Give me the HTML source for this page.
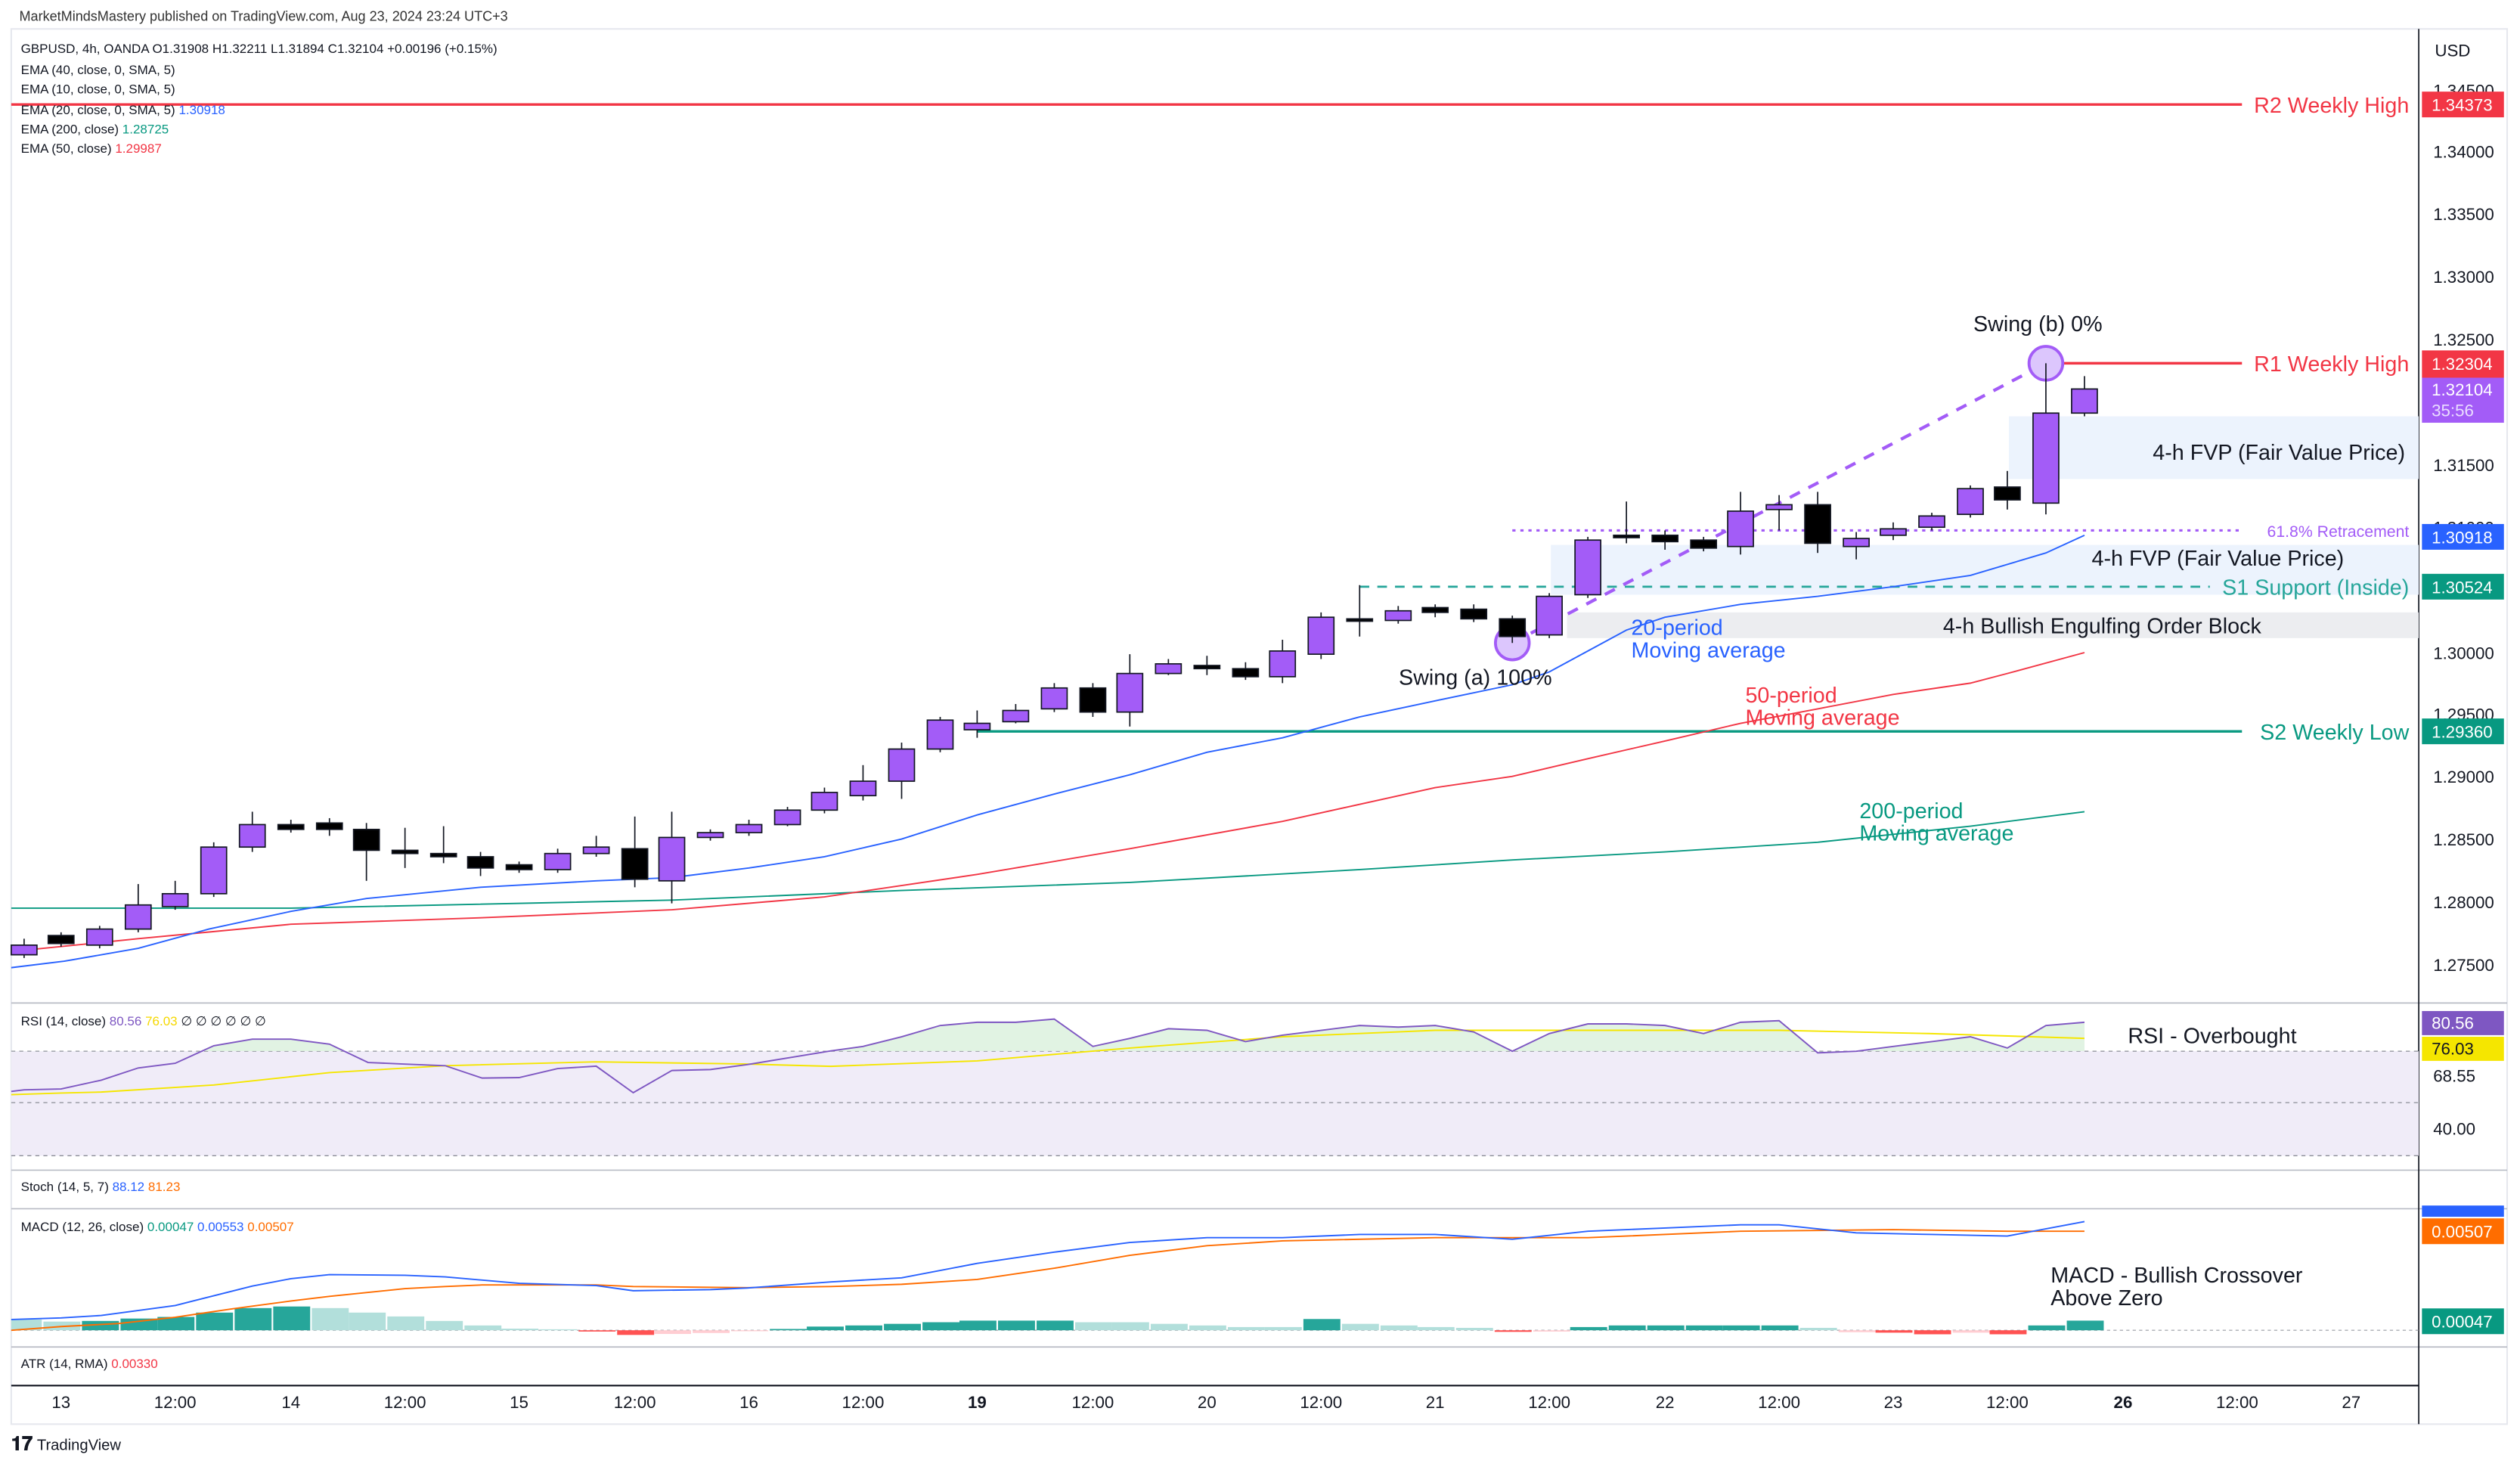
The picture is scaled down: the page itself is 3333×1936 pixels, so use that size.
<!DOCTYPE html>
<html><head><meta charset="utf-8"><style>
html,body{margin:0;padding:0;background:#fff;}
svg{display:block;}
text{font-family:"Liberation Sans",sans-serif;}
</style></head><body>
<svg width="3333" height="1936" viewBox="0 0 1568 910.8" preserveAspectRatio="none" xmlns="http://www.w3.org/2000/svg">
<rect width="1568" height="911" fill="#fff"/>
<text x="12" y="13" font-size="8.5" fill="#333">MarketMindsMastery published on TradingView.com, Aug 23, 2024 23:24 UTC+3</text>
<rect x="7" y="18" width="1553" height="868" fill="none" stroke="#e6e8ee" stroke-width="1"/>
<g stroke="#b8bbc4" stroke-width="0.8">
<line x1="7" y1="624" x2="1560" y2="624"/>
<line x1="7" y1="728" x2="1560" y2="728"/>
<line x1="7" y1="752" x2="1560" y2="752"/>
<line x1="7" y1="838" x2="1560" y2="838"/>
</g>
<line x1="7" y1="862" x2="1505" y2="862" stroke="#131722" stroke-width="1"/>
<line x1="1505" y1="18" x2="1505" y2="886" stroke="#131722" stroke-width="0.8"/>

<rect x="1250" y="259" width="255" height="39" fill="#ecf3fd"/>
<rect x="965" y="339" width="540" height="31" fill="#ecf3fd"/>
<rect x="975" y="381" width="530" height="16" fill="#ecedf0"/>

<line x1="7" y1="65" x2="1395" y2="65" stroke="#f23645" stroke-width="1.6"/>
<line x1="1275" y1="226" x2="1395" y2="226" stroke="#f23645" stroke-width="1.6"/>
<line x1="608" y1="455" x2="1395" y2="455" stroke="#089981" stroke-width="1.6"/>
<line x1="846" y1="365" x2="1375" y2="365" stroke="#26a69a" stroke-width="1.3" stroke-dasharray="6,5"/>
<line x1="846" y1="365" x2="846" y2="378" stroke="#131722" stroke-width="0.6"/>
<line x1="941" y1="330" x2="1395" y2="330" stroke="#a35cf7" stroke-width="1.5" stroke-dasharray="2,3"/>

<polyline fill="none" stroke="#089981" stroke-width="0.9" points="7,565 181,565 418,560 561,554 703,549 846,541 941,535 1036,530 1131,524 1226,514 1297,505"/>
<polyline fill="none" stroke="#f23645" stroke-width="0.9" points="7,592 86,584 181,575 299,571 418,566 513,558 608,544 703,528 798,511 893,490 941,483 988,472 1036,461 1083,450 1131,441 1178,432 1226,425 1249,419 1297,406"/>
<polyline fill="none" stroke="#2962ff" stroke-width="0.9" points="7,602 40,598 86,590 130,578 181,567 228,559 299,552 371,548 418,546 466,540 513,533 561,522 608,507 656,494 703,482 751,468 798,459 846,446 893,436 941,426 964,418 988,405 1012,392 1036,384 1083,376 1131,371 1178,365 1226,358 1273,344 1297,333"/>

<line x1="941" y1="400" x2="1273" y2="226" stroke="#a35cf7" stroke-width="2" stroke-dasharray="7,6"/>
<circle cx="941" cy="400" r="10.5" fill="#dcc6fd" stroke="#a35cf7" stroke-width="1.8"/>
<circle cx="1273" cy="226" r="10.5" fill="#dcc6fd" stroke="#a35cf7" stroke-width="1.8"/>

<g stroke="#131722" stroke-width="0.8">
<line x1="15" y1="584" x2="15" y2="596"/><rect x="7" y="588" width="16" height="6" fill="#a35cf7"/>
<line x1="38" y1="580" x2="38" y2="589"/><rect x="30" y="582" width="16" height="5" fill="#000"/>
<line x1="62" y1="576" x2="62" y2="590"/><rect x="54" y="578" width="16" height="10" fill="#a35cf7"/>
<line x1="86" y1="550" x2="86" y2="580"/><rect x="78" y="563" width="16" height="15" fill="#a35cf7"/>
<line x1="109" y1="548" x2="109" y2="566"/><rect x="101" y="556" width="16" height="8" fill="#a35cf7"/>
<line x1="133" y1="524" x2="133" y2="558"/><rect x="125" y="527" width="16" height="29" fill="#a35cf7"/>
<line x1="157" y1="505" x2="157" y2="530"/><rect x="149" y="513" width="16" height="14" fill="#a35cf7"/>
<line x1="181" y1="510" x2="181" y2="518"/><rect x="173" y="513" width="16" height="3" fill="#000"/>
<line x1="205" y1="509" x2="205" y2="520"/><rect x="197" y="512" width="16" height="4" fill="#000"/>
<line x1="228" y1="512" x2="228" y2="548"/><rect x="220" y="516" width="16" height="13" fill="#000"/>
<line x1="252" y1="515" x2="252" y2="540"/><rect x="244" y="529" width="16" height="2" fill="#000"/>
<line x1="276" y1="514" x2="276" y2="537"/><rect x="268" y="531" width="16" height="2" fill="#000"/>
<line x1="299" y1="530" x2="299" y2="545"/><rect x="291" y="533" width="16" height="7" fill="#000"/>
<line x1="323" y1="536" x2="323" y2="543"/><rect x="315" y="538" width="16" height="3" fill="#000"/>
<line x1="347" y1="528" x2="347" y2="543"/><rect x="339" y="531" width="16" height="10" fill="#a35cf7"/>
<line x1="371" y1="520" x2="371" y2="533"/><rect x="363" y="527" width="16" height="4" fill="#a35cf7"/>
<line x1="395" y1="508" x2="395" y2="552"/><rect x="387" y="528" width="16" height="19" fill="#000"/>
<line x1="418" y1="505" x2="418" y2="562"/><rect x="410" y="521" width="16" height="27" fill="#a35cf7"/>
<line x1="442" y1="516" x2="442" y2="523"/><rect x="434" y="518" width="16" height="3" fill="#a35cf7"/>
<line x1="466" y1="510" x2="466" y2="520"/><rect x="458" y="513" width="16" height="5" fill="#a35cf7"/>
<line x1="490" y1="502" x2="490" y2="514"/><rect x="482" y="504" width="16" height="9" fill="#a35cf7"/>
<line x1="513" y1="490" x2="513" y2="506"/><rect x="505" y="493" width="16" height="11" fill="#a35cf7"/>
<line x1="537" y1="476" x2="537" y2="498"/><rect x="529" y="486" width="16" height="9" fill="#a35cf7"/>
<line x1="561" y1="462" x2="561" y2="497"/><rect x="553" y="466" width="16" height="20" fill="#a35cf7"/>
<line x1="585" y1="446" x2="585" y2="468"/><rect x="577" y="448" width="16" height="18" fill="#a35cf7"/>
<line x1="608" y1="442" x2="608" y2="459"/><rect x="600" y="450" width="16" height="4" fill="#a35cf7"/>
<line x1="632" y1="438" x2="632" y2="450"/><rect x="624" y="442" width="16" height="7" fill="#a35cf7"/>
<line x1="656" y1="425" x2="656" y2="443"/><rect x="648" y="428" width="16" height="13" fill="#a35cf7"/>
<line x1="680" y1="425" x2="680" y2="446"/><rect x="672" y="428" width="16" height="15" fill="#000"/>
<line x1="703" y1="407" x2="703" y2="452"/><rect x="695" y="419" width="16" height="24" fill="#a35cf7"/>
<line x1="727" y1="410" x2="727" y2="420"/><rect x="719" y="413" width="16" height="6" fill="#a35cf7"/>
<line x1="751" y1="408" x2="751" y2="420"/><rect x="743" y="414" width="16" height="2" fill="#000"/>
<line x1="775" y1="412" x2="775" y2="423"/><rect x="767" y="416" width="16" height="5" fill="#000"/>
<line x1="798" y1="398" x2="798" y2="425"/><rect x="790" y="405" width="16" height="16" fill="#a35cf7"/>
<line x1="822" y1="381" x2="822" y2="410"/><rect x="814" y="384" width="16" height="23" fill="#a35cf7"/>
<line x1="846" y1="364" x2="846" y2="396"/><rect x="838" y="385" width="16" height="1.5" fill="#000"/>
<line x1="870" y1="377" x2="870" y2="388"/><rect x="862" y="380" width="16" height="6" fill="#a35cf7"/>
<line x1="893" y1="376" x2="893" y2="384"/><rect x="885" y="378" width="16" height="3" fill="#000"/>
<line x1="917" y1="376" x2="917" y2="387"/><rect x="909" y="379" width="16" height="6" fill="#000"/>
<line x1="941" y1="383" x2="941" y2="400"/><rect x="933" y="385" width="16" height="11" fill="#000"/>
<line x1="964" y1="369" x2="964" y2="397"/><rect x="956" y="371" width="16" height="24" fill="#a35cf7"/>
<line x1="988" y1="334" x2="988" y2="372"/><rect x="980" y="336" width="16" height="34" fill="#a35cf7"/>
<line x1="1012" y1="312" x2="1012" y2="338"/><rect x="1004" y="333" width="16" height="1.5" fill="#000"/>
<line x1="1036" y1="330" x2="1036" y2="342"/><rect x="1028" y="333" width="16" height="4" fill="#000"/>
<line x1="1060" y1="334" x2="1060" y2="343"/><rect x="1052" y="336" width="16" height="5" fill="#000"/>
<line x1="1083" y1="306" x2="1083" y2="345"/><rect x="1075" y="318" width="16" height="22" fill="#a35cf7"/>
<line x1="1107" y1="308" x2="1107" y2="330"/><rect x="1099" y="314" width="16" height="3" fill="#a35cf7"/>
<line x1="1131" y1="306" x2="1131" y2="344"/><rect x="1123" y="314" width="16" height="24" fill="#000"/>
<line x1="1155" y1="331" x2="1155" y2="348"/><rect x="1147" y="335" width="16" height="5" fill="#a35cf7"/>
<line x1="1178" y1="325" x2="1178" y2="336"/><rect x="1170" y="329" width="16" height="4" fill="#a35cf7"/>
<line x1="1202" y1="319" x2="1202" y2="330"/><rect x="1194" y="321" width="16" height="7" fill="#a35cf7"/>
<line x1="1226" y1="302" x2="1226" y2="322"/><rect x="1218" y="304" width="16" height="16" fill="#a35cf7"/>
<line x1="1249" y1="293" x2="1249" y2="317"/><rect x="1241" y="303" width="16" height="8" fill="#000"/>
<line x1="1273" y1="226" x2="1273" y2="320"/><rect x="1265" y="257" width="16" height="56" fill="#a35cf7"/>
<line x1="1297" y1="234" x2="1297" y2="259"/><rect x="1289" y="242" width="16" height="15" fill="#a35cf7"/>
</g>

<g font-size="13.5">
<text x="1499" y="70" text-anchor="end" fill="#f23645">R2 Weekly High</text>
<text x="1499" y="231" text-anchor="end" fill="#f23645">R1 Weekly High</text>
<text x="1499" y="460" text-anchor="end" fill="#089981">S2 Weekly Low</text>
<text x="1499" y="370" text-anchor="end" fill="#26a69a">S1 Support (Inside)</text>
<text x="1418" y="286" text-anchor="middle" fill="#131722">4-h FVP (Fair Value Price)</text>
<text x="1380" y="352" text-anchor="middle" fill="#131722">4-h FVP (Fair Value Price)</text>
<text x="1308" y="394" text-anchor="middle" fill="#131722">4-h Bullish Engulfing Order Block</text>
<text x="918" y="426" text-anchor="middle" fill="#131722">Swing (a) 100%</text>
<text x="1268" y="206" text-anchor="middle" fill="#131722">Swing (b) 0%</text>
<text x="1015" y="395" fill="#2962ff">20-period</text>
<text x="1015" y="409" fill="#2962ff">Moving average</text>
<text x="1086" y="437" fill="#f23645">50-period</text>
<text x="1086" y="451" fill="#f23645">Moving average</text>
<text x="1157" y="509" fill="#089981">200-period</text>
<text x="1157" y="523" fill="#089981">Moving average</text>
<text x="1324" y="649" fill="#131722">RSI - Overbought</text>
<text x="1276" y="798" fill="#131722">MACD - Bullish Crossover</text>
<text x="1276" y="812" fill="#131722">Above Zero</text>
</g>
<text x="1499" y="334" text-anchor="end" font-size="10" fill="#a35cf7">61.8% Retracement</text>

<g font-size="8" fill="#131722">
<text x="13" y="33">GBPUSD, 4h, OANDA  O1.31908  H1.32211  L1.31894  C1.32104  +0.00196 (+0.15%)</text>
<text x="13" y="46">EMA (40, close, 0, SMA, 5)</text>
<text x="13" y="58">EMA (10, close, 0, SMA, 5)</text>
<text x="13" y="71">EMA (20, close, 0, SMA, 5) <tspan fill="#2962ff">1.30918</tspan></text>
<text x="13" y="83">EMA (200, close) <tspan fill="#089981">1.28725</tspan></text>
<text x="13" y="95">EMA (50, close) <tspan fill="#f23645">1.29987</tspan></text>
<text x="13" y="638">RSI (14, close) <tspan fill="#7e57c2">80.56</tspan> <tspan fill="#f5d800">76.03</tspan> ∅ ∅ ∅ ∅ ∅ ∅</text>
<text x="13" y="741">Stoch (14, 5, 7) <tspan fill="#2962ff">88.12</tspan> <tspan fill="#ff6d00">81.23</tspan></text>
<text x="13" y="766">MACD (12, 26, close) <tspan fill="#089981">0.00047</tspan> <tspan fill="#2962ff">0.00553</tspan> <tspan fill="#ff6d00">0.00507</tspan></text>
<text x="13" y="851">ATR (14, RMA) <tspan fill="#f23645">0.00330</tspan></text>
</g>

<g font-size="10.5" fill="#131722">
<text x="1515" y="35">USD</text>
<text x="1514" y="60">1.34500</text>
<text x="1514" y="98">1.34000</text>
<text x="1514" y="137">1.33500</text>
<text x="1514" y="176">1.33000</text>
<text x="1514" y="215">1.32500</text>
<text x="1514" y="293">1.31500</text>
<text x="1514" y="332">1.31000</text>
<text x="1514" y="410">1.30000</text>
<text x="1514" y="448">1.29500</text>
<text x="1514" y="487">1.29000</text>
<text x="1514" y="526">1.28500</text>
<text x="1514" y="565">1.28000</text>
<text x="1514" y="604">1.27500</text>
<text x="1514" y="673">68.55</text>
<text x="1514" y="706">40.00</text>
</g>
<rect x="1507" y="57" width="51" height="16" fill="#f23645"/><text x="1513" y="69" font-size="10.5" fill="#fff">1.34373</text>
<rect x="1507" y="218" width="51" height="17" fill="#f23645"/><text x="1513" y="230" font-size="10.5" fill="#fff">1.32304</text>
<rect x="1507" y="235" width="51" height="28" fill="#a35cf7"/><text x="1513" y="246" font-size="10.5" fill="#fff">1.32104</text><text x="1513" y="259" font-size="10.5" fill="#eadcff">35:56</text>
<rect x="1507" y="326" width="51" height="16" fill="#2962ff"/><text x="1513" y="338" font-size="10.5" fill="#fff">1.30918</text>
<rect x="1507" y="357" width="51" height="16" fill="#089981"/><text x="1513" y="369" font-size="10.5" fill="#fff">1.30524</text>
<rect x="1507" y="447" width="51" height="16" fill="#089981"/><text x="1513" y="459" font-size="10.5" fill="#fff">1.29360</text>
<rect x="1507" y="629" width="51" height="15" fill="#7e57c2"/><text x="1513" y="640" font-size="10.5" fill="#fff">80.56</text>
<rect x="1507" y="645" width="51" height="15" fill="#f5e600"/><text x="1513" y="656" font-size="10.5" fill="#131722">76.03</text>
<rect x="1507" y="750" width="51" height="7" fill="#2962ff"/>
<rect x="1507" y="758" width="51" height="16" fill="#ff6d00"/><text x="1513" y="770" font-size="10.5" fill="#fff">0.00507</text>
<rect x="1507" y="814" width="51" height="16" fill="#089981"/><text x="1513" y="826" font-size="10.5" fill="#fff">0.00047</text>

<rect x="7" y="654" width="1498" height="65" fill="#f0ecf8"/>
<g stroke="#8a8d96" stroke-width="0.6" stroke-dasharray="2.5,2.5">
<line x1="7" y1="654" x2="1505" y2="654"/><line x1="7" y1="686" x2="1505" y2="686"/><line x1="7" y1="719" x2="1505" y2="719"/>
</g>
<clipPath id="ob"><rect x="7" y="625" width="1498" height="29"/></clipPath>
<polygon clip-path="url(#ob)" fill="#d9f0dc" opacity="0.8" points="7,654 7,679 15,678 38,677.5 63,672 86,664.4 109,661.5 133,650.6 157,646.5 181,646.5 205,649.6 229,661 252,662 277,663 300,670.7 323,670.4 347,664.8 371,663.3 394,679.8 418,666 442,665.4 465,662.3 517,653.8 537,651 561,645 585,638 608,636 632,636 656,634 680,651 703,646 727,640 751,641 775,648 798,644 822,641 846,638 870,639 893,638 917,642 941,654 964,643 988,637 1012,637 1036,638 1060,643 1083,636 1107,635 1131,655 1155,654 1178,651 1202,648 1226,645 1249,652 1273,638 1297,636 1297,654"/>
<polyline fill="none" stroke="#f5e600" stroke-width="0.9" points="7,681 38,680 63,679.4 133,675 205,667.3 277,663 371,660.6 462,661.9 517,663.4 608,660 703,652 798,645 893,641 988,641 1107,641 1200,643 1297,646"/>
<polyline fill="none" stroke="#7e57c2" stroke-width="0.9" points="7,679 15,678 38,677.5 63,672 86,664.4 109,661.5 133,650.6 157,646.5 181,646.5 205,649.6 229,661 252,662 277,663 300,670.7 323,670.4 347,664.8 371,663.3 394,679.8 418,666 442,665.4 465,662.3 517,653.8 537,651 561,645 585,638 608,636 632,636 656,634 680,651 703,646 727,640 751,641 775,648 798,644 822,641 846,638 870,639 893,638 917,642 941,654 964,643 988,637 1012,637 1036,638 1060,643 1083,636 1107,635 1131,655 1155,654 1178,651 1202,648 1226,645 1249,652 1273,638 1297,636"/>

<line x1="7" y1="827.6" x2="1505" y2="827.6" stroke="#8a8d96" stroke-width="0.5" stroke-dasharray="2,2"/>
<g>
<rect x="7" y="820.9" width="19" height="6.7" fill="#b2dfdb"/>
<rect x="27" y="822.2" width="23" height="5.4" fill="#b2dfdb"/>
<rect x="51" y="821.8" width="23" height="5.8" fill="#26a69a"/>
<rect x="75" y="820.3" width="23" height="7.3" fill="#26a69a"/>
<rect x="98" y="819.3" width="23" height="8.3" fill="#26a69a"/>
<rect x="122" y="816.6" width="23" height="11" fill="#26a69a"/>
<rect x="146" y="813.8" width="23" height="13.8" fill="#26a69a"/>
<rect x="170" y="812.8" width="23" height="14.8" fill="#26a69a"/>
<rect x="194" y="813.8" width="23" height="13.8" fill="#b2dfdb"/>
<rect x="217" y="816.6" width="23" height="11" fill="#b2dfdb"/>
<rect x="241" y="819" width="23" height="8.6" fill="#b2dfdb"/>
<rect x="265" y="821.8" width="23" height="5.8" fill="#b2dfdb"/>
<rect x="289" y="824.6" width="23" height="3" fill="#b2dfdb"/>
<rect x="312" y="826.6" width="23" height="1" fill="#b2dfdb"/>
<rect x="336" y="827" width="23" height="0.6" fill="#b2dfdb"/>
<rect x="360" y="827.6" width="23" height="0.8" fill="#ff5252"/>
<rect x="384" y="827.6" width="23" height="2.9" fill="#ff5252"/>
<rect x="407" y="827.6" width="23" height="2.3" fill="#ffcdd2"/>
<rect x="431" y="827.6" width="23" height="1.7" fill="#ffcdd2"/>
<rect x="455" y="827.6" width="23" height="0.6" fill="#ffcdd2"/>
<rect x="479" y="826.8" width="23" height="0.8" fill="#26a69a"/>
<rect x="502" y="825.3" width="23" height="2.3" fill="#26a69a"/>
<rect x="526" y="824.6" width="23" height="3" fill="#26a69a"/>
<rect x="550" y="823.6" width="23" height="4" fill="#26a69a"/>
<rect x="574" y="822.6" width="23" height="5" fill="#26a69a"/>
<rect x="597" y="821.6" width="23" height="6" fill="#26a69a"/>
<rect x="621" y="821.6" width="23" height="6" fill="#26a69a"/>
<rect x="645" y="821.6" width="23" height="6" fill="#26a69a"/>
<rect x="669" y="822.6" width="23" height="5" fill="#b2dfdb"/>
<rect x="692" y="822.6" width="23" height="5" fill="#b2dfdb"/>
<rect x="716" y="823.6" width="23" height="4" fill="#b2dfdb"/>
<rect x="740" y="824.6" width="23" height="3" fill="#b2dfdb"/>
<rect x="764" y="825.6" width="23" height="2" fill="#b2dfdb"/>
<rect x="787" y="825.6" width="23" height="2" fill="#b2dfdb"/>
<rect x="811" y="820.6" width="23" height="7" fill="#26a69a"/>
<rect x="835" y="823.6" width="23" height="4" fill="#b2dfdb"/>
<rect x="859" y="824.6" width="23" height="3" fill="#b2dfdb"/>
<rect x="882" y="825.6" width="23" height="2" fill="#b2dfdb"/>
<rect x="906" y="826.1" width="23" height="1.5" fill="#b2dfdb"/>
<rect x="930" y="827.6" width="23" height="1" fill="#ff5252"/>
<rect x="954" y="827.6" width="23" height="0.8" fill="#ffcdd2"/>
<rect x="977" y="825.6" width="23" height="2" fill="#26a69a"/>
<rect x="1001" y="824.6" width="23" height="3" fill="#26a69a"/>
<rect x="1025" y="824.6" width="23" height="3" fill="#26a69a"/>
<rect x="1049" y="824.6" width="23" height="3" fill="#26a69a"/>
<rect x="1072" y="824.6" width="23" height="3" fill="#26a69a"/>
<rect x="1096" y="824.6" width="23" height="3" fill="#26a69a"/>
<rect x="1120" y="826.1" width="23" height="1.5" fill="#b2dfdb"/>
<rect x="1144" y="827.6" width="23" height="1.2" fill="#ffcdd2"/>
<rect x="1167" y="827.6" width="23" height="1.5" fill="#ff5252"/>
<rect x="1191" y="827.6" width="23" height="2.5" fill="#ff5252"/>
<rect x="1215" y="827.6" width="23" height="1.5" fill="#ffcdd2"/>
<rect x="1238" y="827.6" width="23" height="2.5" fill="#ff5252"/>
<rect x="1262" y="824.6" width="23" height="3" fill="#26a69a"/>
<rect x="1286" y="821.6" width="23" height="6" fill="#26a69a"/>
</g>
<polyline fill="none" stroke="#ff6d00" stroke-width="0.9" points="7,827.6 38,825.3 74,823.4 109,819.5 145,814.2 181,809.4 205,806.5 252,801.7 277,800.4 300,799.4 371,799.4 394,800.4 465,801.1 517,800.4 561,799 608,796 656,789 703,781 751,775 798,772 893,770 988,770 1083,766 1178,765 1249,766 1297,766"/>
<polyline fill="none" stroke="#2962ff" stroke-width="0.9" points="7,820.9 38,819.9 63,818.4 109,812.2 157,800.1 181,795.5 205,793 252,793.4 277,794.4 323,798.4 371,799.8 394,803 442,802.3 465,801.3 517,797.5 561,795 608,786 656,779 703,773 751,770 798,770 846,768 893,768 941,771 988,766 1036,764 1083,762 1107,762 1155,767 1202,768 1249,769 1297,760"/>

<g font-size="10.5" fill="#131722" text-anchor="middle">
<text x="38" y="876">13</text><text x="109" y="876">12:00</text>
<text x="181" y="876">14</text><text x="252" y="876">12:00</text>
<text x="323" y="876">15</text><text x="395" y="876">12:00</text>
<text x="466" y="876">16</text><text x="537" y="876">12:00</text>
<text x="608" y="876" font-weight="bold">19</text><text x="680" y="876">12:00</text>
<text x="751" y="876">20</text><text x="822" y="876">12:00</text>
<text x="893" y="876">21</text><text x="964" y="876">12:00</text>
<text x="1036" y="876">22</text><text x="1107" y="876">12:00</text>
<text x="1178" y="876">23</text><text x="1249" y="876">12:00</text>
<text x="1321" y="876" font-weight="bold">26</text><text x="1392" y="876">12:00</text>
<text x="1463" y="876">27</text>
</g>
<text x="7" y="902" font-size="12" font-weight="bold" fill="#131722">𝟏𝟕</text>
<text x="23" y="902" font-size="9.5" fill="#131722">TradingView</text>
</svg>
</body></html>
